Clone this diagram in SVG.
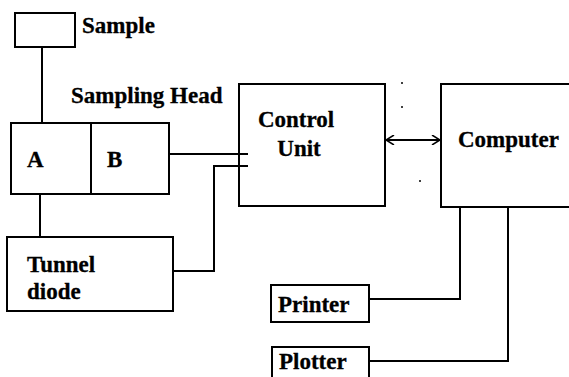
<svg xmlns="http://www.w3.org/2000/svg" width="569" height="377" viewBox="0 0 569 377">
<defs>
<style>
.box{fill:#fff;stroke:#000;stroke-width:2}
.ln{fill:none;stroke:#000;stroke-width:2}
text{font-family:"Liberation Serif","Times New Roman",serif;font-weight:bold;font-size:23px;fill:#000;stroke:#000;stroke-width:0.3}
</style>
<marker id="ah" viewBox="0 0 10 10" refX="9" refY="5" markerWidth="10" markerHeight="10" markerUnits="userSpaceOnUse" orient="auto-start-reverse">
<path d="M1,0 L9,5 L1,10" fill="none" stroke="#000" stroke-width="1.5"/>
</marker>
</defs>
<rect width="569" height="377" fill="#fff"/>
<g id="sample">
<rect class="box" x="15" y="13" width="60" height="34"/>
<text x="82" y="33">Sample</text>
</g>
<g id="sampling-head">
<text x="71" y="103">Sampling Head</text>
<rect class="box" x="11" y="123" width="158" height="71"/>
<path class="ln" d="M91,123 V194"/>
<text x="27" y="167">A</text>
<text x="107" y="167">B</text>
</g>
<g id="tunnel-diode">
<rect class="box" x="7" y="237" width="166" height="74"/>
<text x="27" y="272">Tunnel</text>
<text x="27" y="299">diode</text>
</g>
<g id="control-unit">
<rect class="box" x="239" y="84" width="146" height="122"/>
<text x="296" y="127" text-anchor="middle">Control</text>
<text x="299" y="156" text-anchor="middle">Unit</text>
</g>
<g id="computer">
<rect class="box" x="441" y="84" width="129" height="123"/>
<text x="458" y="147">Computer</text>
</g>
<g id="printer">
<rect class="box" x="271" y="285" width="98" height="37"/>
<text x="278" y="312">Printer</text>
</g>
<g id="plotter">
<rect class="box" x="272" y="347" width="97" height="40"/>
<text x="279" y="369">Plotter</text>
</g>
<g id="connectors">
<path class="ln" d="M42,47 V123"/>
<path class="ln" d="M40,194 V237"/>
<path class="ln" d="M169,154 H248"/>
<path class="ln" d="M173,271 H214 V166 H248"/>
<path class="ln" d="M386,140 H440" marker-start="url(#ah)" marker-end="url(#ah)"/>
<path class="ln" d="M460,207 V299 H369"/>
<path class="ln" d="M508,207 V361 H369"/>
</g>
<g id="specks" fill="#000">
<circle cx="402" cy="83" r="1"/>
<circle cx="402" cy="107" r="1"/>
<circle cx="420" cy="181" r="1"/>
</g>
</svg>
